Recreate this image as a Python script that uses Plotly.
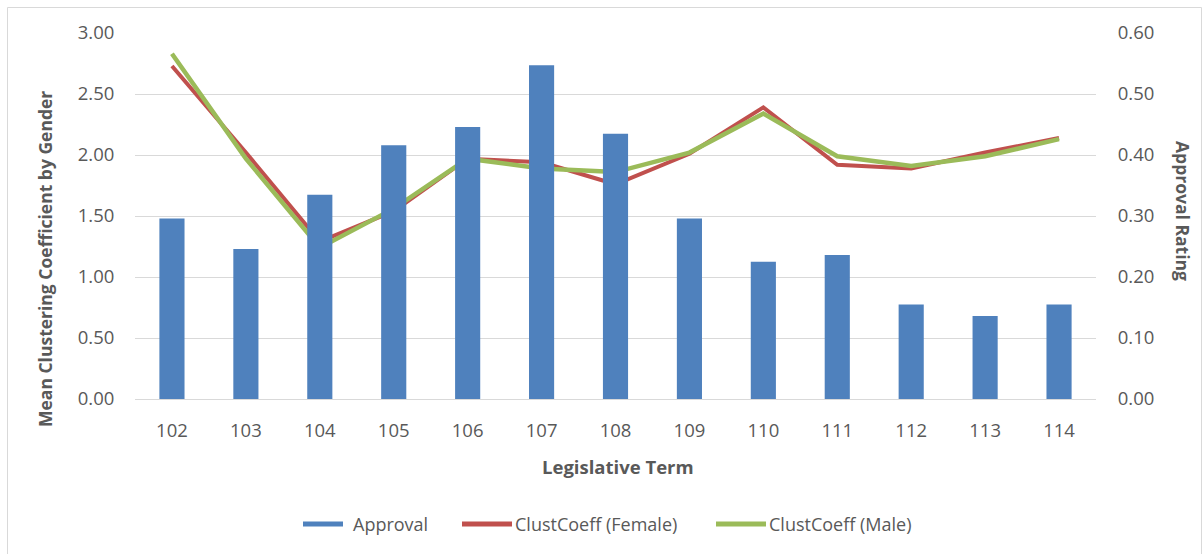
import plotly.graph_objects as go

# Legislative terms and series values
terms = ["102", "103", "104", "105", "106", "107", "108", "109", "110", "111", "112", "113", "114"]
approval = [0.296, 0.246, 0.335, 0.416, 0.446, 0.547, 0.435, 0.296, 0.225, 0.236, 0.155, 0.136, 0.155]
clust_female = [2.73, 2.02, 1.29, 1.54, 1.97, 1.94, 1.76, 2.01, 2.39, 1.92, 1.89, 2.02, 2.14]
clust_male = [2.83, 1.97, 1.24, 1.56, 1.97, 1.89, 1.86, 2.02, 2.34, 1.99, 1.91, 1.99, 2.13]
series_names = ["Approval", "ClustCoeff (Female)", "ClustCoeff (Male)"]

W, H = 1204, 554
L, R, T, B = 135, 1096, 33, 399  # plot area in pixels

BLUE = "#4F81BD"
RED = "#C0504D"
GREEN = "#9BBB59"
GRID = "#D9D9D9"
TEXT = "#595959"
FONT = "Open Sans"


def px_x(x):
    return (x - L) / (R - L)


def px_y(y):
    return (B - y) / (B - T)


fig = go.Figure()

fig.add_trace(go.Bar(
    x=terms, y=approval, name=series_names[0], yaxis="y2",
    marker=dict(color=BLUE, line=dict(width=0)),
    width=0.34, showlegend=False,
))
fig.add_trace(go.Scatter(
    x=terms, y=clust_female, name=series_names[1], mode="lines",
    line=dict(color=RED, width=4), showlegend=False,
))
fig.add_trace(go.Scatter(
    x=terms, y=clust_male, name=series_names[2], mode="lines",
    line=dict(color=GREEN, width=4.5), showlegend=False,
))

tick_font = dict(family=FONT, size=18.5, color=TEXT)
x_title_font = dict(family=FONT, size=18.5, color=TEXT, weight="bold")
y_title_font = dict(family=FONT, size=17.5, color=TEXT, weight="bold")
legend_font = dict(family=FONT, size=18, color=TEXT)

# Legend laid out as swatch strokes followed by labels
legend_y = 524
legend_items = [
    (series_names[0], BLUE, 303, 343, 352),
    (series_names[1], RED, 462, 512, 514),
    (series_names[2], GREEN, 716, 766, 768),
]
shapes = [
    dict(type="rect", xref="paper", yref="paper",
         x0=px_x(7.5), x1=px_x(1201.5), y0=px_y(570), y1=px_y(7.5),
         line=dict(color=GRID, width=1), fillcolor="rgba(0,0,0,0)", layer="below"),
]
annotations = [
    dict(text="Mean Clustering Coefficient by Gender", xref="paper", yref="paper",
         x=px_x(45), y=px_y(259), textangle=-90, showarrow=False,
         font=y_title_font, xanchor="center", yanchor="middle"),
    dict(text="Approval Rating", xref="paper", yref="paper",
         x=px_x(1183), y=px_y(211), textangle=90, showarrow=False,
         font=y_title_font, xanchor="center", yanchor="middle"),
    dict(text="Legislative Term", xref="paper", yref="paper",
         x=px_x(618), y=px_y(466), showarrow=False,
         font=x_title_font, xanchor="center", yanchor="middle"),
]
for name, color, sx0, sx1, tx in legend_items:
    shapes.append(dict(type="line", xref="paper", yref="paper",
                       x0=px_x(sx0), x1=px_x(sx1), y0=px_y(legend_y), y1=px_y(legend_y),
                       line=dict(color=color, width=5)))
    annotations.append(dict(text=name, xref="paper", yref="paper",
                            x=px_x(tx), y=px_y(legend_y), showarrow=False,
                            font=legend_font, xanchor="left", yanchor="middle",
                            borderpad=0))

fig.update_layout(
    width=W, height=H,
    margin=dict(l=L, r=W - R, t=T, b=H - B),
    paper_bgcolor="white", plot_bgcolor="white",
    font=dict(family=FONT, color=TEXT),
    showlegend=False,
    xaxis=dict(
        type="category", showgrid=False, zeroline=False,
        showline=True, linecolor=GRID, linewidth=1,
        ticks="outside", ticklen=15, tickcolor="rgba(0,0,0,0)",
        tickfont=tick_font, fixedrange=True,
    ),
    yaxis=dict(
        range=[0, 3], dtick=0.5, tickformat=".2f",
        showgrid=True, gridcolor=GRID, gridwidth=1, zeroline=False,
        ticks="outside", ticklen=16, tickcolor="rgba(0,0,0,0)",
        tickfont=tick_font,
    ),
    yaxis2=dict(
        range=[0, 0.6], dtick=0.1, tickformat=".2f",
        overlaying="y", side="right", showgrid=False, zeroline=False,
        ticks="outside", ticklen=17, tickcolor="rgba(0,0,0,0)",
        tickfont=tick_font,
    ),
    annotations=annotations,
    shapes=shapes,
)

fig.write_html("out.html")
